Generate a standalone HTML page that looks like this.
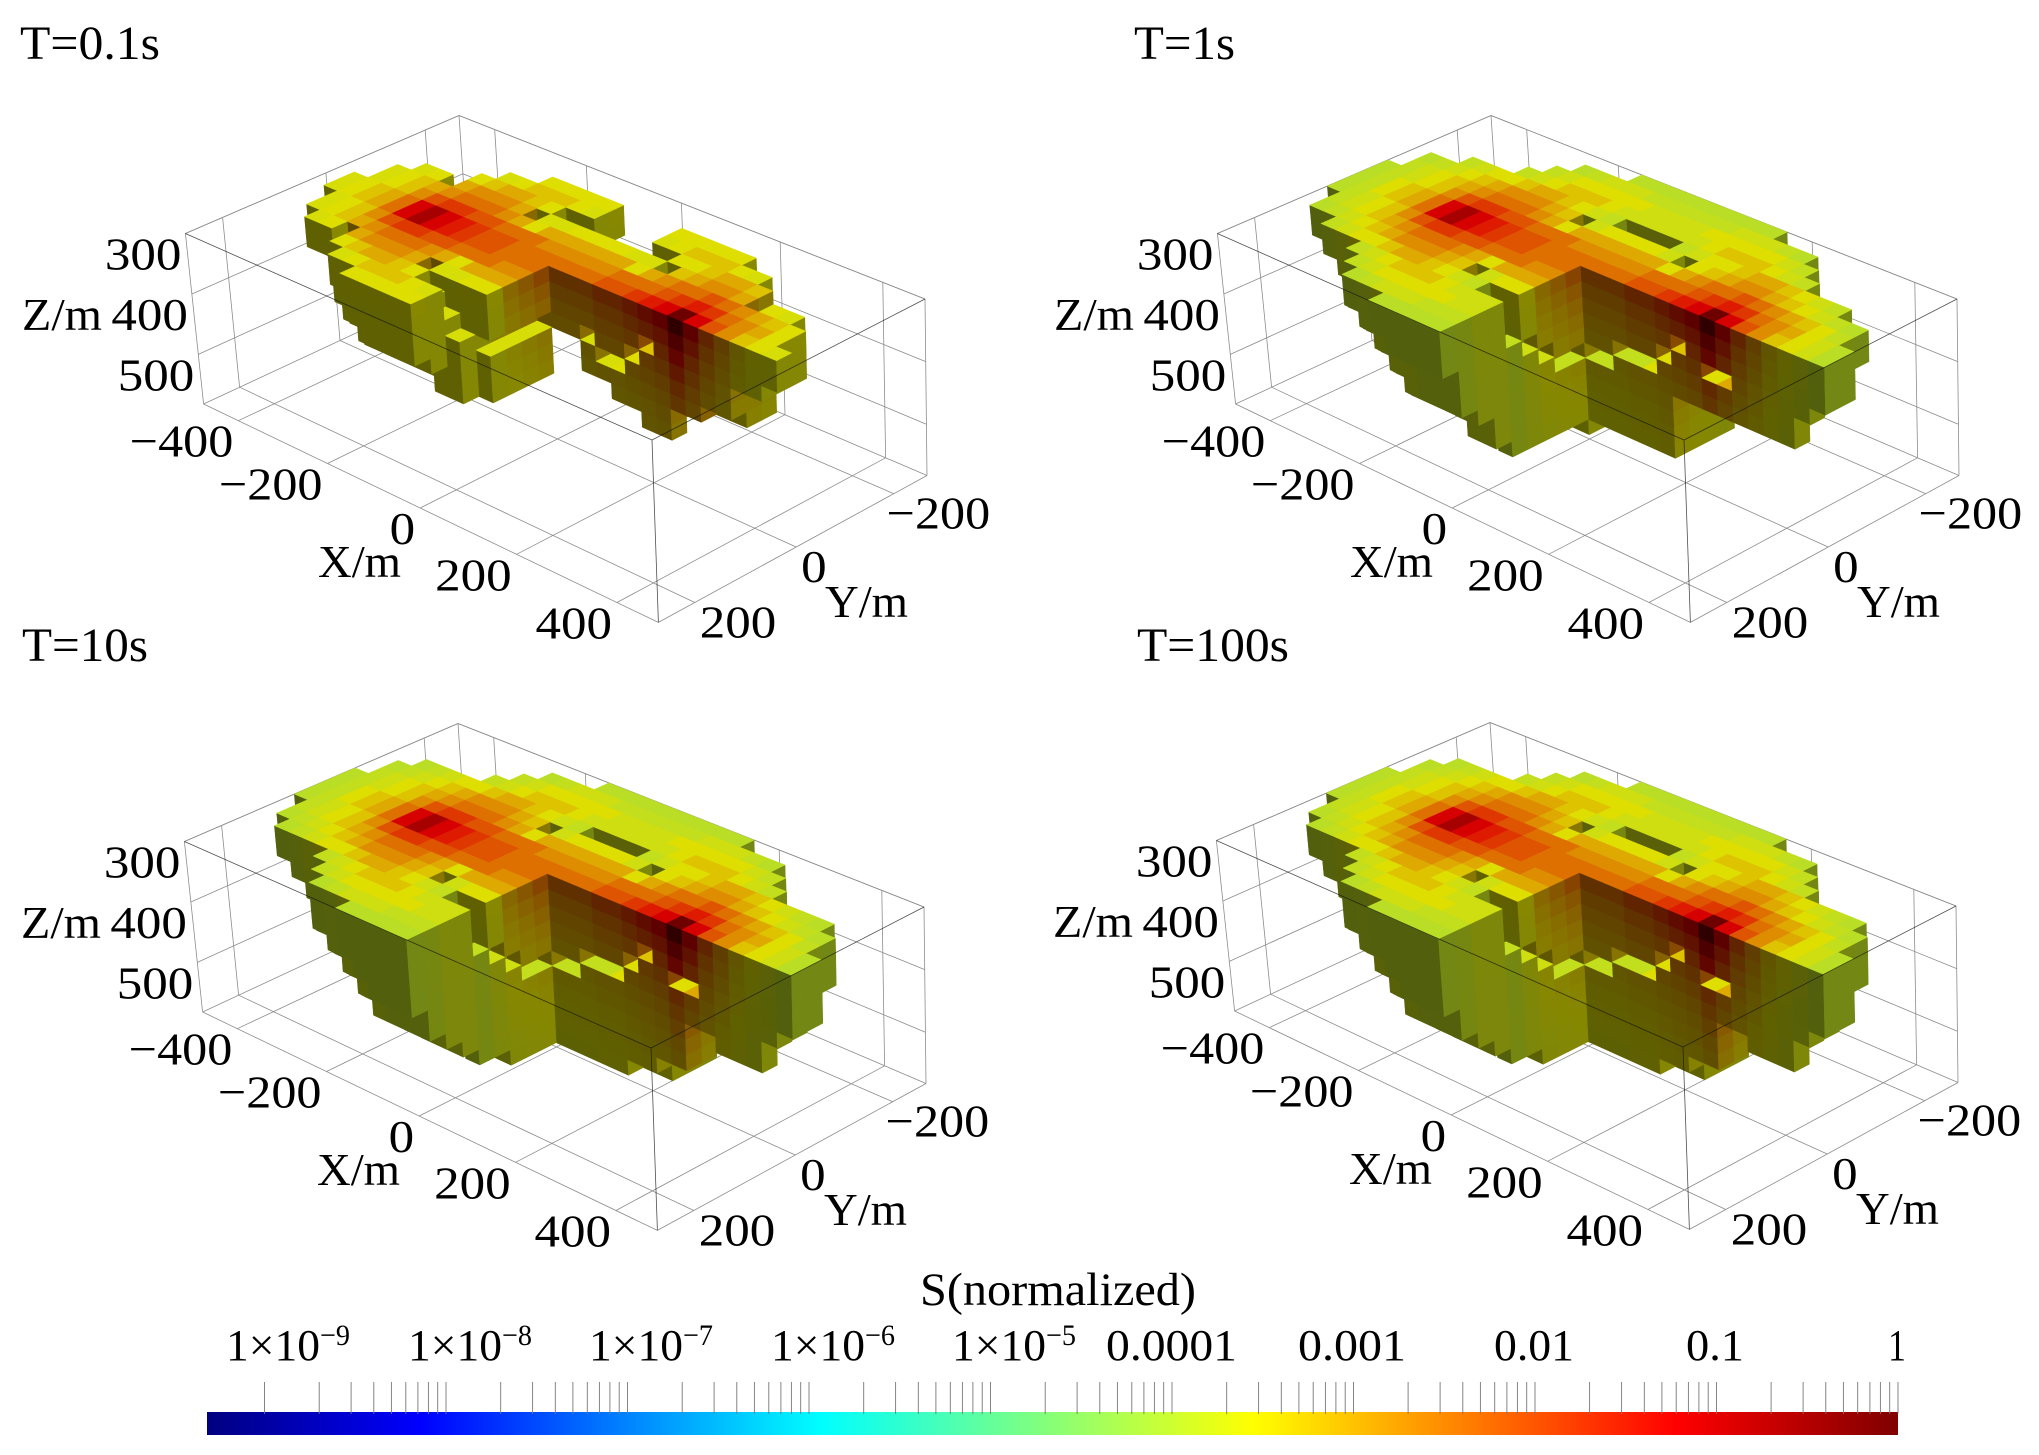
<!DOCTYPE html>
<html lang="en">
<head>
<meta charset="utf-8">
<title>Normalized S voxel plots</title>
<style>
html,body{margin:0;padding:0;background:#fff;}
svg{display:block;}
text{font-family:"Liberation Serif","DejaVu Serif",serif;fill:#000;}
</style>
</head>
<body>
<svg id="figure" xmlns="http://www.w3.org/2000/svg" width="2039" height="1455" viewBox="0 0 2039 1455">
<rect x="0" y="0" width="2039" height="1455" fill="#fff"/>
<g id="panels"></g>
<g id="colorbar">
<text x="920" y="1305" font-size="47" textLength="276" lengthAdjust="spacingAndGlyphs">S(normalized)</text>
<text x="226" y="1360" font-size="44" textLength="94" lengthAdjust="spacingAndGlyphs">1×10</text>
<text x="320" y="1345" font-size="30" textLength="30" lengthAdjust="spacingAndGlyphs">−9</text>
<text x="408" y="1360" font-size="44" textLength="94" lengthAdjust="spacingAndGlyphs">1×10</text>
<text x="502" y="1345" font-size="30" textLength="30" lengthAdjust="spacingAndGlyphs">−8</text>
<text x="589" y="1360" font-size="44" textLength="94" lengthAdjust="spacingAndGlyphs">1×10</text>
<text x="683" y="1345" font-size="30" textLength="30" lengthAdjust="spacingAndGlyphs">−7</text>
<text x="771" y="1360" font-size="44" textLength="94" lengthAdjust="spacingAndGlyphs">1×10</text>
<text x="865" y="1345" font-size="30" textLength="30" lengthAdjust="spacingAndGlyphs">−6</text>
<text x="952" y="1360" font-size="44" textLength="94" lengthAdjust="spacingAndGlyphs">1×10</text>
<text x="1046" y="1345" font-size="30" textLength="30" lengthAdjust="spacingAndGlyphs">−5</text>
<text x="1106" y="1360" font-size="44" textLength="131" lengthAdjust="spacingAndGlyphs">0.0001</text>
<text x="1298" y="1360" font-size="44" textLength="108" lengthAdjust="spacingAndGlyphs">0.001</text>
<text x="1494" y="1360" font-size="44" textLength="80" lengthAdjust="spacingAndGlyphs">0.01</text>
<text x="1686" y="1360" font-size="44" textLength="58" lengthAdjust="spacingAndGlyphs">0.1</text>
<text x="1888" y="1360" font-size="44" textLength="18" lengthAdjust="spacingAndGlyphs">1</text>
</g>
</svg>
<script>
// ---- chart data ----
const panelTitles = ["T=0.1s", "T=1s", "T=10s", "T=100s"];
const xTicks = [-400, -200, 0, 200, 400];
const yTicks = [-200, 0, 200];
const zTicks = [300, 400, 500];
const xRange = [-480, 480];
const yRange = [-270, 270];
const zRange = [300, 582];
const voxelSize = [30, 30, 25];

const levelCodes = "abcdefghijklmn";
const levelLogS = [-3.95, -3.85, -3.72, -3.55, -3.27, -3.0, -2.7, -2.4, -2.1, -1.8, -1.5, -1.15, -0.6, 0];
const layerAsymptoteLogS = -3.75;
const layerRetention = 0.8;
const panelTopFloorLogS = [-3.62, -9, -9, -9];
const panelSideFloorLogS = [-3.6, -3.9, -3.9, -3.9];

const surfaceLevels = [
"...........aaaaaaaaaa...........",
"........abcccbbbbbbcccba........",
".......bcdddddccccdddddcb.......",
"......bcdeeedccccccdeeedcb......",
"..abcddeffedcbbbbbbcddeffedcba..",
".abcdefgggfeccddddccdefggfedcba.",
".bcdefghhhgfdffffffdfghhihgfedb.",
"abcdegijjiihhhggggghhhijkjhgfdca",
"abdefhlmlkjiihhhhhhiijklnligedca",
"abdefhlmlkjiihhh",
"abcdegijjiihhhgg",
".bcdefghhhgfdfff",
".abcdefgggfeccdd",
"..abcddeffedcbbb",
"......bcdeeedccc",
".......bcdddddcc",
"........abcccbbb",
"...........aaaaa"
];
const lipLevels = [
"","","","","","","","",
"................bbbbddef.fc",
"...............b",
"...............b",
"...............c",
"...............c"
];

const t01Top = [
"","",
".........00000....00000.........",
".......0000000....0000000.......",
"......000000........000000......",
"...00.00000.00000000.00000.00...",
"..0000000000000000000000000000..",
"..0000000000000000000000000000..",
".000000000000000000000000000000.",
".000000000000000",
"..00000000000000",
"..00000000000000",
"...00.00000.0000",
"......000000123",
".......0000000",
".........00000"
];
const t01Bottom = [
"","",
".........22222....22222.........",
".......2344433....3344432.......",
"......455665........566554......",
"...22.56665.44444444.66666.22...",
"..2234667776544444456777666633..",
"..2234667776544444456777666633..",
".1234567777754444466778866553 32.".replace(" ",""),
".123456777777777",
"..22346677777777",
"..22346677777777",
"...22.56665.7777",
"......456666677",
".......2345555",
".........34444"
];
const t01Gap = [
"","","","","","","","",
"..................34432",
"...............3",
"...............3",
"...............3",
"...............3"
];

const t1Top = [
"...........0000000000...........",
"........0000000000000000........",
".......000000000000000000.......",
"......00000000000000000000......",
"...00000000000....00000000000...",
".00000000000.000000.00000000000.",
".000000000000000000000000000000.",
"00000000000000000000000000000000",
"00000000000000000000000000000000",
"0000000000000000",
"0000000000000000",
".000000000000000",
".00000000000.000",
"...0000000000053",
"......0000000000",
".......000000000",
"........00000000",
"...........00000"
];
const t1Bottom = [
"...........3333333333...........",
"........2344555555554432........",
".......345667777777766543.......",
"......46678888888888887664......",
"...23367788888888888888776332...",
".2233677aaaaaaaaaaaaaa666553322.",
".2333678bbbbbbbbaaaaaa666665432.",
"2223478bbbbbbbbbaaaaaa6666665533",
"1223478bbbbbbbbbaaaaaa6666666643",
"2223467889aaaaaa",
"2223467889aaaaaa",
".2234578899aaaaa",
".224456788999aaa",
"...234556788999a",
"......3567888899",
".......345677777",
"........23456666",
"...........23333"
];
const t1Gap = [
"","","","","","","","",
"................5544432.33",
"...............5",
"...............5",
"...............4",
"...............3"
];

const t10Top = [
"...........0000000000...........",
"........0000000000000000........",
".......000000000000000000.......",
"......00000000000000000000......",
"..000000000000....000000000000..",
".00000000000.000000.00000000000.",
".000000000000000000000000000000.",
"00000000000000000000000000000000",
"00000000000000000000000000000000",
"0000000000000000",
"0000000000000000",
".000000000000000",
".00000000000.000",
"..00000000000053",
"......0000000000",
".......000000000",
"........00000000",
"...........00000"
];
const t10Bottom = [
"...........4444444444...........",
"........3455666666665543........",
".......456778888888877654.......",
"......57789999999999998775......",
"..344578aaaaaaaaaaaaaaaa875443..",
".3344788bbbbbbbbbbbbbbb66654433.",
".3444789bbbbbbbbbbbbbbb66665443.",
"3334589bbbbbbbbbbbbbbbb996666654",
"2334589bbbbbbbbbbbbbbaa996677754",
"233457899aabbbbb",
"233456889aabbbbb",
".334567899aaabbb",
".2345677899aaaaa",
"..2345667889999a",
"......4678888999",
".......456777888",
"........34567777",
"...........34555"
];
const t10Gap = t1Gap;

const t100Top = t10Top;
const t100Bottom = t10Bottom;
const t100Gap = t1Gap;

const panelTopDepths = [t01Top, t1Top, t10Top, t100Top];
const panelBottomDepths = [t01Bottom, t1Bottom, t10Bottom, t100Bottom];
const panelGapDepths = [t01Gap, t1Gap, t10Gap, t100Gap];

const colorStopPositions = [0, 0.126, 0.3635, 0.619, 0.869, 1];
const colorStopColors = [[0,0,128],[0,0,255],[0,255,255],[255,255,0],[255,0,0],[128,0,0]];
const colorbarLogRange = [-9.317, 0];
const tickDecades = [-9, -8, -7, -6, -5, -4, -3, -2, -1];
const tickMultiples = [1, 2, 3, 4, 5, 6, 7, 8, 9];

// ---- geometry ----
const SVGNS = "http://www.w3.org/2000/svg";
const panelOffsets = [[0,0],[1032,0],[-1,608],[1031,607]];
const topCorners = {B:[459,115.5],R:[925,299],F:[652,440],L:[185.4,233.5]};
const bottomCorners = {B:[470,280],R:[927,475.5],F:[658.4,622.4],L:[203.6,404]};

function quadMap(q){
  const sx=q.B[0]-q.R[0]+q.F[0]-q.L[0], sy=q.B[1]-q.R[1]+q.F[1]-q.L[1];
  const d1x=q.R[0]-q.F[0], d1y=q.R[1]-q.F[1], d2x=q.L[0]-q.F[0], d2y=q.L[1]-q.F[1];
  const det=d1x*d2y-d2x*d1y;
  const g=(sx*d2y-d2x*sy)/det, h=(d1x*sy-sx*d1y)/det;
  const a=q.R[0]-q.B[0]+g*q.R[0], b=q.L[0]-q.B[0]+h*q.L[0], c=q.B[0];
  const d=q.R[1]-q.B[1]+g*q.R[1], e=q.L[1]-q.B[1]+h*q.L[1], f=q.B[1];
  return function(u,v){const n=g*u+h*v+1;return [(a*u+b*v+c)/n,(d*u+e*v+f)/n];};
}
const topMap=quadMap(topCorners), bottomMap=quadMap(bottomCorners);
function project(u,v,w){
  const p=topMap(u,v), q=bottomMap(u,v);
  return [p[0]+(q[0]-p[0])*w, p[1]+(q[1]-p[1])*w];
}
function xScale(x){return (x-xRange[0])/(xRange[1]-xRange[0]);}
function yScale(y){return (y-yRange[0])/(yRange[1]-yRange[0]);}
function zScale(z){return (z-zRange[0])/(zRange[1]-zRange[0]);}
function cellU(i){return xScale(xRange[0]+i*voxelSize[0]);}
function cellV(j){return yScale(yRange[0]+j*voxelSize[1]);}
function layerW(k){return zScale(zRange[0]+k*voxelSize[2]);}

function colorAt(t){
  t=Math.max(0,Math.min(1,t));
  let n=0;
  while(n<colorStopPositions.length-2 && t>colorStopPositions[n+1]) n++;
  const f=(t-colorStopPositions[n])/(colorStopPositions[n+1]-colorStopPositions[n]);
  const a=colorStopColors[n], b=colorStopColors[n+1];
  return [a[0]+(b[0]-a[0])*f, a[1]+(b[1]-a[1])*f, a[2]+(b[2]-a[2])*f];
}
function colorOfLog(logS,shade){
  const t=(logS-colorbarLogRange[0])/(colorbarLogRange[1]-colorbarLogRange[0]);
  const c=colorAt(t);
  return "rgb("+Math.round(c[0]*shade)+","+Math.round(c[1]*shade)+","+Math.round(c[2]*shade)+")";
}
function levelFrom(table,j,i){
  const row=table[j]||"";
  const n=levelCodes.indexOf(row[i]);
  return n<0?levelLogS[3]:levelLogS[n];
}
function layerValue(lvl,depth){
  if(lvl<=layerAsymptoteLogS) return lvl;
  return layerAsymptoteLogS+(lvl-layerAsymptoteLogS)*Math.pow(layerRetention,depth);
}

const SHADE_TOP=0.87, SHADE_PLUS_X=0.53, SHADE_PLUS_Y=0.375;

function drawPolygon(parent,pts,fill,ox,oy){
  const el=document.createElementNS(SVGNS,"polygon");
  
  
  el.setAttribute("points",pts.map(function(p){return (p[0]+ox).toFixed(1)+","+(p[1]+oy).toFixed(1);}).join(" "));
  el.setAttribute("fill",fill);
  el.setAttribute("stroke",fill);
  el.setAttribute("stroke-width","0.5");
  parent.appendChild(el);
}
function drawLine(parent,a,b,ox,oy,color,width,name){
  const el=document.createElementNS(SVGNS,"line");
  
  
  el.setAttribute("x1",(a[0]+ox).toFixed(1));
  el.setAttribute("y1",(a[1]+oy).toFixed(1));
  el.setAttribute("x2",(b[0]+ox).toFixed(1));
  el.setAttribute("y2",(b[1]+oy).toFixed(1));
  el.setAttribute("stroke",color);
  el.setAttribute("stroke-width",width);
  parent.appendChild(el);
}
function drawText(parent,str,x,y,size,width,anchor,name){
  const el=document.createElementNS(SVGNS,"text");
  
  
  el.setAttribute("x",x.toFixed(1));
  el.setAttribute("y",y.toFixed(1));
  el.setAttribute("font-size",size);
  el.setAttribute("text-anchor",anchor);
  if(width){
    el.setAttribute("textLength",width);
    el.setAttribute("lengthAdjust","spacingAndGlyphs");
  }
  el.textContent=str;
  parent.appendChild(el);
}
function tickText(v){return v<0?"\u2212"+Math.abs(v):String(v);}
function tickWidth(v){
  const digits=String(Math.abs(v)).length;
  return digits*25.5+(v<0?27:0);
}

function drawFrame(g,ox,oy){
  const GRID="#8c8c8c", W="0.8";
  function L(a,b,name){drawLine(g,a,b,ox,oy,GRID,W,name);}
  xTicks.forEach(function(x){
    const u=xScale(x);
    L(project(u,1,1),project(u,0,1),"floor-gridline-x");
    L(project(u,0,0),project(u,0,1),"wall-gridline-x");
  });
  yTicks.forEach(function(y){
    const v=yScale(y);
    L(project(0,v,1),project(1,v,1),"floor-gridline-y");
    L(project(0,v,0),project(0,v,1),"wall-gridline-y");
  });
  zTicks.forEach(function(z){
    const w=zScale(z);
    L(project(0,1,w),project(0,0,w),"left-wall-gridline-z");
    L(project(0,0,w),project(1,0,w),"right-wall-gridline-z");
  });
  L(project(0,1,0),project(0,0,0),"box-edge");
  L(project(0,0,0),project(1,0,0),"box-edge");
  L(project(0,1,1),project(0,0,1),"box-edge");
  L(project(0,0,1),project(1,0,1),"box-edge");
  L(project(0,1,1),project(1,1,1),"box-edge");
  L(project(1,1,1),project(1,0,1),"box-edge");
  L(project(0,1,0),project(0,1,1),"box-edge");
  L(project(1,0,0),project(1,0,1),"box-edge");
  L(project(0,0,0),project(0,0,1),"box-edge");
}

function drawBody(g,p,ox,oy){
  const tops=panelTopDepths[p], bottoms=panelBottomDepths[p], gaps=panelGapDepths[p];
  const topFloor=panelTopFloorLogS[p], sideFloor=panelSideFloorLogS[p];
  function col(j,i){
    const r=tops[j]; if(!r) return null;
    const c=r[i]; if(c===undefined||c===".") return null;
    const br=bottoms[j]||"";
    const bc=br[i];
    const t=parseInt(c,36), b=(bc===undefined||bc===".")?t+1:parseInt(bc,36);
    const gr=gaps[j]||"";
    const gc=gr[i];
    const gap=(gc===undefined||gc===".")?-1:parseInt(gc,36);
    return {t:t,b:Math.max(b,t+1),gap:gap};
  }
  function covered(n,k){return n&&n.t<=k&&k<n.b&&k!==n.gap;}
  const cols=[];
  for(let j=0;j<18;j++){
    for(let i=0;i<32;i++){
      const c=col(j,i);
      if(c) cols.push({i:i,j:j,t:c.t,b:c.b,gap:c.gap});
    }
  }
  cols.sort(function(a,b){return (a.i+a.j)-(b.i+b.j);});
  cols.forEach(function(c){
    const u0=cellU(c.i),u1=cellU(c.i+1),v0=cellV(c.j),v1=cellV(c.j+1);
    const lvl=levelFrom(surfaceLevels,c.j,c.i);
    const nx=col(c.j,c.i+1), ny=col(c.j+1,c.i);
    function topFace(k,value){
      const w=layerW(k);
      drawPolygon(g,[project(u0,v0,w),project(u1,v0,w),project(u1,v1,w),project(u0,v1,w)],colorOfLog(Math.max(value,topFloor),SHADE_TOP),ox,oy);
    }
    for(let k=c.b-1;k>=c.t;k--){
      if(k===c.gap){
        topFace(k+1,levelFrom(lipLevels,c.j,c.i));
        continue;
      }
      const w0=layerW(k),w1=layerW(k+1);
      const val=Math.max(layerValue(lvl,k-c.t),sideFloor);
      if(!covered(ny,k)){
        drawPolygon(g,[project(u0,v1,w0),project(u1,v1,w0),project(u1,v1,w1),project(u0,v1,w1)],colorOfLog(val,SHADE_PLUS_Y),ox,oy);
      }
      if(!covered(nx,k)){
        drawPolygon(g,[project(u1,v1,w0),project(u1,v0,w0),project(u1,v0,w1),project(u1,v1,w1)],colorOfLog(val,SHADE_PLUS_X),ox,oy);
      }
    }
    topFace(c.t,lvl);
  });
}

function drawFrontLines(g,ox,oy){
  const C="rgba(20,20,20,0.75)";
  drawLine(g,project(0,1,0),project(1,1,0),ox,oy,C,"0.8","front-top-edge");
  drawLine(g,project(1,1,0),project(1,0,0),ox,oy,C,"0.8","front-top-edge");
  drawLine(g,project(1,1,0),project(1,1,1),ox,oy,C,"0.8","front-vertical-edge");
}

function drawLabels(g,ox,oy){
  const FS=46;
  zTicks.forEach(function(z){
    const a=project(0,1,zScale(z));
    drawText(g,tickText(z),a[0]-4+ox,a[1]+36+oy,FS,tickWidth(z),"end","z-tick-label");
  });
  xTicks.forEach(function(x){
    const a=project(xScale(x),1,1);
    drawText(g,tickText(x),a[0]-5+ox,a[1]+36+oy,FS,tickWidth(x),"end","x-tick-label");
  });
  yTicks.forEach(function(y){
    const a=project(1,yScale(y),1);
    drawText(g,tickText(y),a[0]+(y<0?-7:5)+ox,a[1]+35+oy,FS,tickWidth(y),"start","y-tick-label");
  });
  drawText(g,"Z/m",22+ox,330+oy,FS,80,"start","z-axis-title");
  drawText(g,"X/m",318+ox,577+oy,FS,83,"start","x-axis-title");
  drawText(g,"Y/m",825+ox,617+oy,FS,83,"start","y-axis-title");
}

const titleOrigins=[[20,59,140],[1134,59,101],[22,661,126],[1137,661,152]];
const panelsRoot=document.getElementById("panels");
panelTitles.forEach(function(title,p){
  const g=document.createElementNS(SVGNS,"g");
  
  
  panelsRoot.appendChild(g);
  const ox=panelOffsets[p][0], oy=panelOffsets[p][1];
  drawFrame(g,ox,oy);
  drawBody(g,p,ox,oy);
  drawFrontLines(g,ox,oy);
  drawLabels(g,ox,oy);
  drawText(g,title,titleOrigins[p][0],titleOrigins[p][1],48,titleOrigins[p][2],"start","panel-title");
});

// ---- colorbar ----
const barLeft=207, barRight=1898, barTop=1412, barBottom=1435;
function barX(logS){
  return barLeft+(logS-colorbarLogRange[0])/(colorbarLogRange[1]-colorbarLogRange[0])*(barRight-barLeft);
}
const cb=document.getElementById("colorbar");
const defs=document.createElementNS(SVGNS,"defs");
const grad=document.createElementNS(SVGNS,"linearGradient");
grad.setAttribute("id","barGradient");
colorStopPositions.forEach(function(pos,n){
  const s=document.createElementNS(SVGNS,"stop");
  s.setAttribute("offset",pos);
  s.setAttribute("stop-color","rgb("+colorStopColors[n].join(",")+")");
  grad.appendChild(s);
});
defs.appendChild(grad);
cb.appendChild(defs);
const barRect=document.createElementNS(SVGNS,"rect");


barRect.setAttribute("x",barLeft);
barRect.setAttribute("y",barTop);
barRect.setAttribute("width",barRight-barLeft);
barRect.setAttribute("height",barBottom-barTop);
barRect.setAttribute("fill","url(#barGradient)");
cb.appendChild(barRect);
function drawBarTick(logS){
  const x=barX(logS);
  drawLine(cb,[x,1382],[x,1414],0,0,"#777","0.9","colorbar-tick");
}
tickDecades.forEach(function(d){
  tickMultiples.forEach(function(m){
    drawBarTick(d+Math.log10(m));
  });
});
drawBarTick(0);
</script>
</body>
</html>
